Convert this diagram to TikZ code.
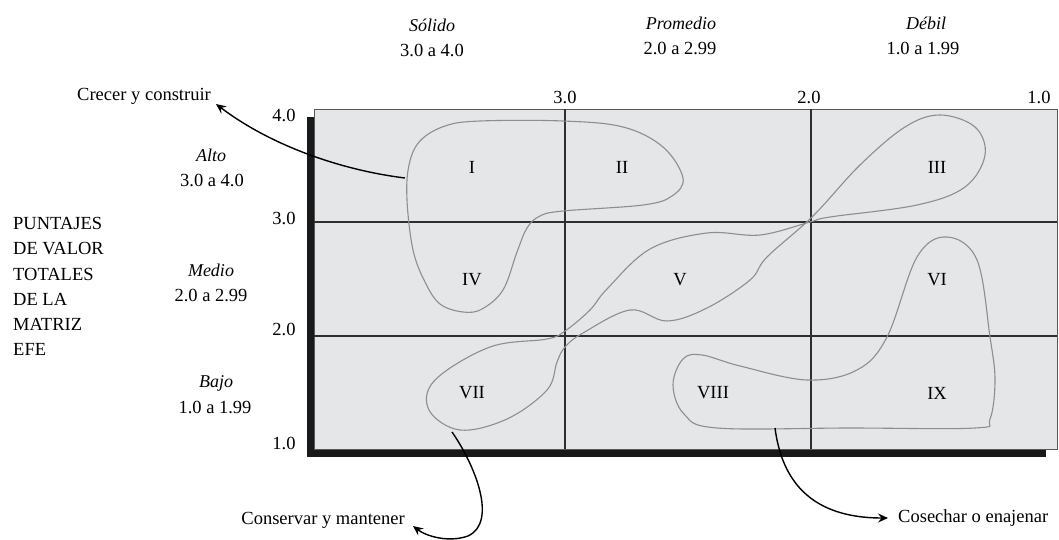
\documentclass[tikz,border=0pt]{standalone}
\usepackage{fontspec}
\setmainfont{Liberation Serif}
\usetikzlibrary{arrows.meta}
\definecolor{cellfill}{HTML}{E5E6E8}
\definecolor{curvegray}{HTML}{8E8E8E}
\definecolor{gridline}{HTML}{2E2E2E}
\begin{document}
\begin{tikzpicture}[x=1pt,y=-1pt,
  txt/.style={inner sep=0pt,font=\fontsize{18.5}{22}\selectfont},
  itxt/.style={inner sep=0pt,font=\fontsize{18}{22}\selectfont\itshape},
  roman/.style={inner sep=0pt,font=\fontsize{18.5}{22}\selectfont},
  region/.style={draw=curvegray,line width=1.1pt},
  conn/.style={draw=black,line width=1.4pt,-{Stealth[length=10pt,width=9pt,inset=3.5pt]}},
  gline/.style={draw=gridline,line width=1.5pt}]
\useasboundingbox (0,0) rectangle (1059,540);
% shadow and field
\fill[black!90] (307,117) rectangle (1046,457);
\fill[cellfill] (314,109) rectangle (1057,449);
\draw[gridline!80,line width=0.9pt] (314,109) rectangle (1057,449);
\draw[gline] (565,109) -- (565,449);
\draw[gline] (811,109) -- (811,449);
\draw[gline] (314,222) -- (1057,222);
\draw[gline] (314,336) -- (1057,336);
% regions
\draw[region] plot[smooth cycle,tension=0.6] coordinates {
  (407,200) (409,165) (420,141) (445,126) (480,121) (563,121) (623,127) (663,147)
  (683,178) (672,196) (643,205) (563,211) (540,216) (527,228) (517,252)
  (503,290) (482,309) (463,312) (440,304) (425,282) (413,250)};
\draw[region] plot[smooth cycle,tension=0.6] coordinates {
  (490,347) (547,339) (565,331) (590,310) (607,289) (650,249) (707,233)
  (760,235) (810,222) (830,217) (917,205) (965,187) (985,155) (975,127)
  (940,115) (905,127) (860,165) (813,216) (767,257) (750,280) (707,308)
  (667,321) (630,310) (583,333) (565,347) (557,362) (547,390) (507,419)
  (460,430) (429,410) (435,380)};
\draw[region] plot[smooth cycle,tension=0.6] coordinates {
  (887,337) (917,257) (947,237) (977,260) (990,337) (995,380) (990,419)
  (975,428) (850,428) (717,428) (684,414) (673,385) (683,359) (702,355)
  (740,366) (807,380) (857,370)};
% roman numerals
\node[roman] (r1) at (472,167) {I};
\node[roman] (r2) at (622,167) {II};
\node[roman] (r3) at (937,167) {III};
\node[roman] (r4) at (472,280) {IV};
\node[roman] (r5) at (680,280) {V};
\node[roman] (r6) at (937,280) {VI};
\node[roman] (r7) at (472,393) {VII};
\node[roman] (r8) at (713,393) {VIII};
\node[roman] (r9) at (937,393) {IX};
% axis numbers
\node[txt] (t30) at (565,97) {3.0};
\node[txt] (t20) at (809,97) {2.0};
\node[txt] (t10) at (1039,97) {1.0};
\node[txt] (l40) at (284,115) {4.0};
\node[txt] (l30) at (284,218) {3.0};
\node[txt] (l20) at (284,329) {2.0};
\node[txt] (l10) at (284,443) {1.0};
% column headers
\node[itxt] (hs) at (432,25) {Sólido};
\node[txt] (hsr) at (432,50) {3.0 a 4.0};
\node[itxt] (hp) at (681,23) {Promedio};
\node[txt] (hpr) at (680,48) {2.0 a 2.99};
\node[itxt] (hd) at (926,23) {Débil};
\node[txt] (hdr) at (923,48) {1.0 a 1.99};
% row headers
\node[itxt] (ra) at (211,155) {Alto};
\node[txt] (rar) at (212,180) {3.0 a 4.0};
\node[itxt] (rm) at (211,270) {Medio};
\node[txt] (rmr) at (211,295) {2.0 a 2.99};
\node[itxt] (rb) at (216,383) {Bajo};
\node[txt] (rbr) at (215,407) {1.0 a 1.99};
% left title
\node[txt,anchor=north west,align=left,font=\fontsize{18.5}{25.3}\selectfont] (title) at (13,217)
  {PUNTAJES\\DE VALOR\\TOTALES\\DE LA\\MATRIZ\\EFE};
% strategy labels
\node[txt,anchor=east] (grow) at (211,96) {Crecer y construir};
\node[txt,anchor=east] (keep) at (405,520) {Conservar y mantener};
\node[txt,anchor=west] (harvest) at (898,518) {Cosechar o enajenar};
\coordinate (sgrow) at (405,178);
\coordinate (skeep) at (452,432);
\coordinate (sharv) at (775,428);
\draw[conn] (sgrow) .. controls (340,170) and (270,145) .. ([xshift=5pt,yshift=-8pt]grow.east);
\draw[conn] (skeep) .. controls (475,465) and (498,522) .. (468,536) .. controls (448,543) and (426,536) .. ([xshift=8pt,yshift=-6pt]keep.east);
\draw[conn] (sharv) .. controls (782,482) and (812,518) .. ([xshift=-10pt]harvest.west);
\end{tikzpicture}
\end{document}
